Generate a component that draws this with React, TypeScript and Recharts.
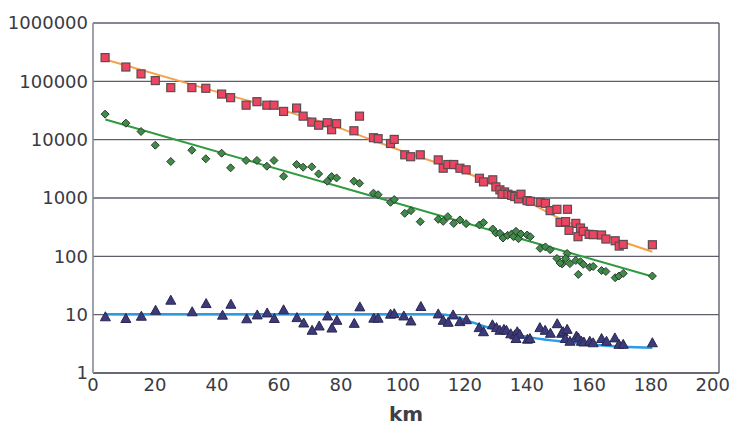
import React from 'react';
import {
  CartesianGrid,
  ComposedChart,
  Label,
  Line,
  ReferenceLine,
  Scatter,
  XAxis,
  YAxis,
} from 'recharts';

// red squares
const redKm = [3.9, 10.6, 15.5, 20.1, 25.1, 31.9, 36.4, 41.5, 44.4, 49.4, 52.9, 56.1, 58.4, 61.5, 65.7, 67.8, 70.6, 72.8, 75.6, 77.0, 78.6, 84.2, 86.0, 90.5, 92.0, 96.0, 97.2, 100.6, 102.5, 105.6, 111.4, 113.0, 114.5, 116.4, 118.4, 120.4, 124.7, 126.0, 129.0, 130.0, 131.3, 132.8, 132.0, 133.9, 135.1, 136.1, 137.3, 138.1, 140.1, 141.1, 144.3, 146.0, 147.5, 149.7, 153.1, 150.7, 152.5, 155.8, 153.6, 157.3, 156.5, 158.2, 160.1, 161.4, 164.1, 165.5, 168.5, 169.8, 171.1, 180.5];
const redVal = [255000, 176000, 134000, 103000, 78000, 78000, 76000, 60500, 52500, 39000, 44800, 39000, 39000, 30500, 34800, 25300, 20000, 17700, 19500, 14800, 18800, 14200, 25300, 10800, 10400, 8600, 10100, 5500, 5100, 5500, 4500, 3240, 3750, 3750, 3240, 3040, 2180, 1890, 2050, 1550, 1380, 1270, 1160, 1160, 1110, 1060, 965, 1160, 902, 878, 844, 811, 608, 640, 640, 382, 393, 367, 279, 306, 217, 268, 238, 235, 232, 198, 185, 150, 160, 158];

// green diamonds
const greenKm = [3.9, 10.6, 15.5, 20.1, 25.1, 31.9, 36.4, 41.5, 44.4, 49.4, 52.9, 56.1, 58.4, 61.5, 65.7, 67.8, 70.6, 72.8, 75.6, 77.0, 78.6, 84.2, 86.0, 90.5, 92.0, 96.0, 97.2, 100.6, 102.6, 105.6, 111.4, 113.0, 114.5, 116.4, 118.4, 120.4, 124.7, 126.0, 129.0, 130.0, 131.3, 132.3, 133.8, 135.1, 135.7, 136.5, 137.3, 138.1, 140.1, 141.1, 144.3, 146.0, 147.5, 149.7, 151.4, 150.7, 153.0, 152.5, 153.9, 155.8, 156.6, 157.3, 158.2, 160.3, 161.4, 164.1, 165.5, 168.5, 169.7, 171.1, 180.5];
const greenVal = [27400, 19200, 13800, 8040, 4220, 6600, 4700, 5860, 3290, 4400, 4400, 3510, 4400, 2360, 3750, 3370, 3420, 2590, 1940, 2330, 2210, 1940, 1790, 1210, 1140, 844, 939, 546, 607, 393, 431, 398, 479, 367, 421, 363, 345, 378, 294, 251, 248, 206, 229, 242, 217, 268, 201, 242, 232, 217, 137, 145, 130, 92, 74, 77, 112, 92, 75, 85, 49, 81, 73, 65, 67, 57, 55, 43, 46, 51, 46];

// navy triangles
const triKm = [4.0, 10.6, 15.6, 20.2, 25.1, 32.0, 36.5, 41.8, 44.5, 49.6, 53.0, 56.2, 58.5, 61.5, 65.8, 68.0, 70.7, 73.0, 75.7, 77.1, 78.7, 84.3, 86.1, 90.6, 92.0, 96.0, 97.2, 100.3, 102.6, 105.8, 111.4, 113.0, 114.6, 116.2, 118.4, 120.5, 124.6, 126.0, 128.9, 130.2, 131.3, 132.6, 133.4, 134.8, 136.1, 136.9, 137.7, 136.5, 140.2, 141.0, 144.2, 145.9, 147.6, 149.8, 151.2, 151.7, 153.0, 152.4, 153.9, 156.0, 156.6, 157.6, 158.4, 160.3, 161.4, 164.1, 165.7, 168.4, 169.7, 171.1, 180.5];
const triVal = [9.2, 8.6, 9.4, 11.9, 17.7, 11.2, 15.5, 9.8, 15.1, 8.5, 9.9, 10.7, 8.6, 12.1, 8.9, 7.2, 5.4, 6.4, 9.5, 5.9, 8.0, 7.1, 13.6, 8.7, 8.7, 10.2, 10.4, 9.5, 7.8, 13.8, 10.3, 8.0, 7.4, 9.9, 7.6, 8.2, 6.0, 5.1, 6.7, 6.0, 5.4, 5.6, 5.4, 4.7, 4.5, 5.1, 4.6, 3.9, 3.8, 3.9, 6.0, 5.4, 4.8, 7.0, 4.8, 5.1, 5.6, 3.9, 3.5, 4.3, 4.0, 3.5, 3.4, 3.5, 3.3, 3.9, 3.5, 4.0, 3.1, 3.1, 3.3];

// fitted curves
const orangeKm = [4, 40, 77, 100, 124, 137, 152, 168, 180.5];
const orangeVal = [236000, 66000, 17600, 6300, 2270, 1070, 410, 200, 120];
const greenFitKm = [4, 90, 180.5];
const greenFitVal = [22200, 1080, 45];
const blueKm = [4, 60, 111.4, 116.2, 120.5, 125.9, 131.3, 142, 152.8, 163.5, 180.5];
const blueVal = [10.2, 10.2, 10.2, 9.5, 8.0, 6.4, 5.3, 4.0, 3.4, 3.0, 2.7];

const xTicks = [0, 20, 40, 60, 80, 100, 120, 140, 160, 180, 200];
const yTicks = [1, 10, 100, 1000, 10000, 100000, 1000000];

const zip = (xs: number[], ys: number[]) => xs.map((x, i) => ({ x, y: ys[i] }));

const FONT = '"DejaVu Sans", sans-serif';
const GRID = '#5f5f6c';

const Square = (p: any) => (
  <rect x={p.cx - 4} y={p.cy - 4} width={8} height={8} fill="#ee4461" stroke="#5a4c50" strokeWidth={1.2} />
);
const Diamond = (p: any) => (
  <polygon
    points={`${p.cx},${p.cy - 4} ${p.cx + 4},${p.cy} ${p.cx},${p.cy + 4} ${p.cx - 4},${p.cy}`}
    fill="#3f8c4a"
    stroke="#2c3a2e"
    strokeWidth={1}
  />
);
const Triangle = (p: any) => (
  <polygon
    points={`${p.cx},${p.cy - 5} ${p.cx + 5},${p.cy + 4} ${p.cx - 5},${p.cy + 4}`}
    fill="#3c3a7a"
    stroke="#2a2850"
    strokeWidth={1}
  />
);

export default function App() {
  return (
    <div style={{ position: 'absolute', left: 0, top: 0, background: '#fff' }}>
      <ComposedChart width={738} height={433} margin={{ top: 23, right: 19, left: 0, bottom: 0 }}>
        <CartesianGrid vertical={false} stroke={GRID} strokeWidth={1.4} />
        <XAxis
          type="number"
          dataKey="x"
          domain={[0, 202]}
          ticks={xTicks}
          allowDataOverflow
          tickLine={false}
          tickSize={0}
          tickMargin={5}
          height={60}
          axisLine={{ stroke: GRID, strokeWidth: 1.4 }}
          tick={{ fontSize: 18, fill: '#3a3a44', fontFamily: FONT }}
        >
          <Label
            value="km"
            position="insideBottom"
            offset={12}
            style={{ fontSize: 20, fontWeight: 'bold', fill: '#3f3f48', fontFamily: FONT }}
          />
        </XAxis>
        <YAxis
          type="number"
          dataKey="y"
          scale="log"
          domain={[1, 1000000]}
          ticks={yTicks}
          allowDataOverflow
          tickLine={false}
          tickSize={0}
          tickMargin={5}
          width={93}
          axisLine={{ stroke: '#8a8a96', strokeWidth: 1.6 }}
          tick={{ fontSize: 18, fill: '#3a3a44', fontFamily: FONT }}
        />
        <ReferenceLine x={202} stroke={GRID} strokeWidth={1.4} />

        <Line data={zip(orangeKm, orangeVal)} dataKey="y" type="monotone" stroke="#f7a04c" strokeWidth={2} dot={false} isAnimationActive={false} />
        <Line data={zip(greenFitKm, greenFitVal)} dataKey="y" type="linear" stroke="#2f9a3e" strokeWidth={2} dot={false} isAnimationActive={false} />
        <Line data={zip(blueKm, blueVal)} dataKey="y" type="monotone" stroke="#2c9be4" strokeWidth={2.5} dot={false} isAnimationActive={false} />

        <Scatter data={zip(redKm, redVal)} dataKey="y" shape={Square} isAnimationActive={false} />
        <Scatter data={zip(greenKm, greenVal)} dataKey="y" shape={Diamond} isAnimationActive={false} />
        <Scatter data={zip(triKm, triVal)} dataKey="y" shape={Triangle} isAnimationActive={false} />
      </ComposedChart>
    </div>
  );
}
